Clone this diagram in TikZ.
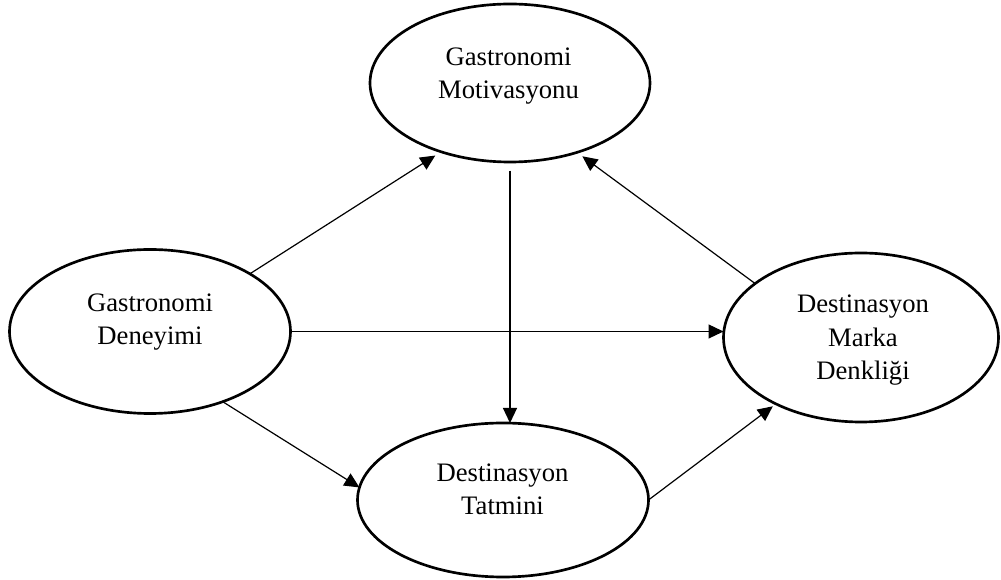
\documentclass[tikz,border=0pt]{standalone}
\usepackage{fontspec}
\setmainfont{Liberation Serif}
\usetikzlibrary{shapes.geometric,arrows.meta}
\begin{document}
\begin{tikzpicture}[x=0.75pt,y=-0.75pt,
  oval/.style={draw,ellipse,line width=2pt,inner sep=0pt,outer sep=0pt},
  lbl/.style={align=center,font=\fontsize{20}{25.1}\selectfont,inner sep=0pt},
  link/.style={line width=0.9pt,-{Triangle[length=11.25pt,width=10.5pt]}}]
\useasboundingbox (0,0) rectangle (1001,580);

% constructs
\node[oval,minimum width=210pt,minimum height=118.5pt] (gm) at (510,83) {};
\node[oval,minimum width=210.75pt,minimum height=123pt] (gd) at (150,331.5) {};
\node[oval,minimum width=206.25pt,minimum height=126.75pt] (dm) at (861,337.5) {};
\node[oval,minimum width=218.25pt,minimum height=115.5pt] (dt) at (503,500) {};

% construct names
\node[lbl] (gm-t) at (508.5,75.8) {Gastronomi\\Motivasyonu};
\node[lbl] (gd-t) at (150,322.2) {Gastronomi\\Deneyimi};
\node[lbl] (dm-t) at (863,340.2) {Destinasyon\\Marka\\Denkliği};
\node[lbl] (dt-t) at (502.5,489.3) {Destinasyon\\Tatmini};

% hypothesised paths
\draw[link,shorten >=5.25pt] (gd.30) -- (gm.-135);
\draw[link,shorten >=5pt] (dm.153) -- (gm.-46);
\draw[link] (gd.east) -- (gd.east -| dm.west);
\draw[link] (gd.-44) -- (dt.175);
\draw[link,shorten >=3pt] (dt.east) -- (dm.-142);
\draw[link,shorten <=6.5pt] (gm.south) -- (gm.south |- dt.north);
\end{tikzpicture}
\end{document}
